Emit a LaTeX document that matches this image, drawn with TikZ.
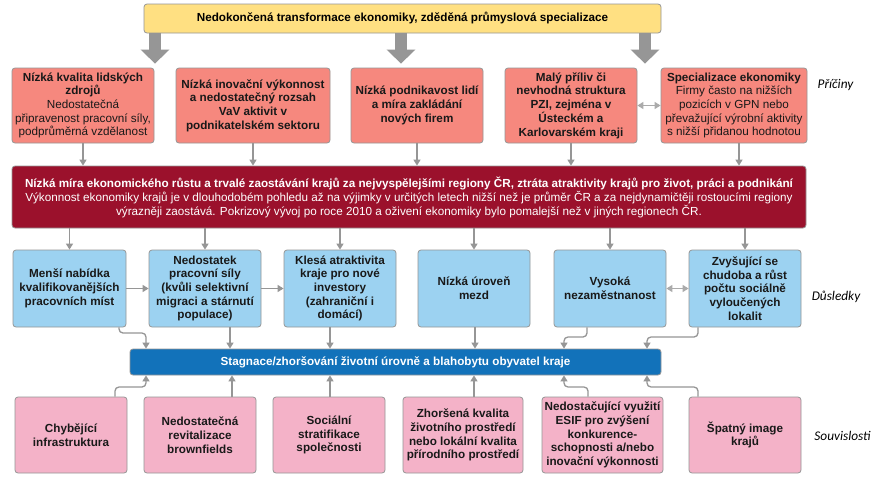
\documentclass[tikz,border=0pt]{standalone}
\usepackage{fontspec}
\setmainfont{Liberation Sans}
\newfontfamily\lblfont{Carlito}
\usetikzlibrary{arrows.meta}
\definecolor{ylw}{RGB}{255,224,130}
\definecolor{salmon}{RGB}{246,136,126}
\definecolor{darkred}{RGB}{155,17,44}
\definecolor{lblue}{RGB}{156,210,241}
\definecolor{bbar}{RGB}{18,114,186}
\definecolor{pinkb}{RGB}{244,178,200}
\definecolor{edge}{RGB}{150,150,150}
\definecolor{agray}{RGB}{150,150,150}
\definecolor{txt}{RGB}{25,25,25}
\tikzset{
  box/.style={draw=edge, line width=0.8pt, rounded corners=3pt, align=center, inner sep=2pt,
    text=txt, font=\fontsize{11.7}{13.7}\selectfont\bfseries},
  redbox/.style={box, fill=salmon},
  bluebox/.style={box, fill=lblue},
  pinkbox/.style={box, fill=pinkb},
  conn/.style={draw=agray, line width=1.3pt, rounded corners=4pt,
    -{Triangle[width=7pt,length=6pt]}},
  dconn/.style={draw=agray!80, line width=1.3pt,
    {Triangle[width=7pt,length=6pt]}-{Triangle[width=7pt,length=6pt]}},
  bigarrow/.style={draw=agray, line width=12pt,
    -{Triangle[width=28pt,length=14pt]}},
  sidelbl/.style={font=\lblfont\itshape\fontsize{13.3}{15}\selectfont, text=black}
}
\begin{document}
\begin{tikzpicture}[x=1pt,y=-1pt]
\useasboundingbox (0,0) rectangle (876,482);
\fill[white] (0,0) rectangle (876,482);

% top
\node[box, fill=ylw, minimum width=517pt, minimum height=29pt, text=black,
  font=\fontsize{11.7}{13.7}\selectfont\bfseries] (top) at (402.5,18.5)
  {Nedokončená transformace ekonomiky, zděděná průmyslová specializace};

% row 1
\node[redbox, minimum width=142pt, minimum height=75pt] (c1) at (83,105.5)
  {Nízká kvalita lidských\\zdrojů\\\mdseries Nedostatečná\\\mdseries připravenost pracovní síly,\\\mdseries podprůměrná vzdělanost};
\node[redbox, minimum width=154pt, minimum height=75pt] (c2) at (253,105.5)
  {Nízká inovační výkonnost\\a nedostatečný rozsah\\VaV aktivit v\\podnikatelském sektoru};
\node[redbox, minimum width=132pt, minimum height=75pt] (c3) at (417,105.5)
  {Nízká podnikavost lidí\\a míra zakládání\\nových firem};
\node[redbox, minimum width=132pt, minimum height=75pt] (c4) at (571,105.5)
  {Malý příliv či\\nevhodná struktura\\PZI, zejména v\\Ústeckém a\\Karlovarském kraji};
\node[redbox, minimum width=146pt, minimum height=75pt] (c5) at (734,105.5)
  {Specializace ekonomiky\\\mdseries Firmy často na nižších\\\mdseries pozicích v GPN nebo\\\mdseries převažující výrobní aktivity\\\mdseries s nižší přidanou hodnotou};

% dark red bar
\node[box, fill=darkred, text=white, minimum width=794pt, minimum height=62pt,
  font=\fontsize{11.7}{14}\selectfont] (bar) at (409,197)
  {\bfseries Nízká míra ekonomického růstu a trvalé zaostávání krajů za nejvyspělejšími regiony ČR, ztráta atraktivity krajů pro život, práci a podnikání\\
   Výkonnost ekonomiky krajů je v dlouhodobém pohledu až na výjimky v určitých letech nižší než je průměr ČR a za nejdynamičtěji rostoucími regiony\\
   výrazněji zaostává. Pokrizový vývoj po roce 2010 a oživení ekonomiky bylo pomalejší než v jiných regionech ČR.};

% row 2
\node[bluebox, minimum width=113pt, minimum height=77pt] (d1) at (69.5,288.5)
  {Menší nabídka\\kvalifikovanějších\\pracovních míst};
\node[bluebox, minimum width=112pt, minimum height=77pt] (d2) at (205,288.5)
  {Nedostatek\\pracovní síly\\(kvůli selektivní\\migraci a stárnutí\\populace)};
\node[bluebox, minimum width=112pt, minimum height=77pt] (d3) at (340,288.5)
  {Klesá atraktivita\\kraje pro nové\\investory\\(zahraniční i\\domácí)};
\node[bluebox, minimum width=112pt, minimum height=77pt] (d4) at (474,288.5)
  {Nízká úroveň\\mezd};
\node[bluebox, minimum width=112pt, minimum height=77pt] (d5) at (610,288.5)
  {Vysoká\\nezaměstnanost};
\node[bluebox, minimum width=112pt, minimum height=77pt] (d6) at (745,288.5)
  {Zvyšující se\\chudoba a růst\\počtu sociálně\\vyloučených\\lokalit};

% blue bar
\node[box, fill=bbar, text=white, minimum width=531pt, minimum height=26pt,
  font=\fontsize{11.7}{13.7}\selectfont\bfseries] (bbar) at (395.5,362)
  {Stagnace/zhoršování životní úrovně a blahobytu obyvatel kraje};

% row 3
\node[pinkbox, minimum width=112pt, minimum height=76pt] (e1) at (71,435)
  {Chybějící\\infrastruktura};
\node[pinkbox, minimum width=112pt, minimum height=76pt] (e2) at (200,435)
  {Nedostatečná\\revitalizace\\brownfields};
\node[pinkbox, minimum width=112pt, minimum height=76pt] (e3) at (329,435)
  {Sociální\\stratifikace\\společnosti};
\node[pinkbox, minimum width=120pt, minimum height=76pt] (e4) at (463,435)
  {Zhoršená kvalita\\životního prostředí\\nebo lokální kvalita\\přírodního prostředí};
\node[pinkbox, minimum width=121pt, minimum height=76pt] (e5) at (602.5,435)
  {Nedostačující využití\\ESIF pro zvýšení\\konkurence-\\schopnosti a/nebo\\inovační výkonnosti};
\node[pinkbox, minimum width=112pt, minimum height=76pt] (e6) at (745,435)
  {Špatný image\\krajů};

% side labels
\node[sidelbl] (l1) at (835.5,85) {Příčiny};
\node[sidelbl] (l2) at (836,297) {Důsledky};
\node[sidelbl] (l3) at (842.5,436) {Souvislosti};

% big arrows
\draw[bigarrow, shorten >=4pt] (top.south -| 155,0) -- (c2.north -| 155,0);
\draw[bigarrow, shorten >=4pt] (top.south -| 401,0) -- (c3.north -| 401,0);
\draw[bigarrow, shorten >=4pt] (top.south -| 645,0) -- (c4.north -| 645,0);

% row1 -> bar
\draw[conn] (c1.south) -- (c1.south |- bar.north);
\draw[conn] (c2.south) -- (c2.south |- bar.north);
\draw[conn] (c3.south) -- (c3.south |- bar.north);
\draw[conn] (c4.south) -- (c4.south |- bar.north);
\draw[conn] (c5.south -| 739,0) -- (bar.north -| 739,0);
\draw[dconn] (c4.east) -- (c5.west);

% bar -> row2
\draw[conn] (d1.north |- bar.south) -- (d1.north);
\draw[conn] (d2.north |- bar.south) -- (d2.north);
\draw[conn] (d3.north |- bar.south) -- (d3.north);
\draw[conn] (d4.north |- bar.south) -- (d4.north);
\draw[conn] (d5.north |- bar.south) -- (d5.north);
\draw[conn] (d6.north |- bar.south) -- (d6.north);

% row2 horizontal
\draw[conn] (d1.east) -- (d2.west);
\draw[conn] (d2.east) -- (d3.west);
\draw[dconn] (d5.east) -- (d6.west);

% row2 -> blue bar
\draw[conn] (d1.south -| 119,0) -- (119,333) -- (146,333) -- (bbar.north -| 146,0);
\draw[conn] (d2.south -| 230,0) -- (bbar.north -| 230,0);
\draw[conn] (d3.south -| 330,0) -- (bbar.north -| 330,0);
\draw[conn] (d4.south -| 475,0) -- (bbar.north -| 475,0);
\draw[conn] (d5.south -| 587,0) -- (587,337) -- (564,337) -- (bbar.north -| 564,0);
\draw[conn] (d6.south -| 698,0) -- (698,337) -- (647,337) -- (bbar.north -| 647,0);

% row3 -> blue bar
\draw[conn] (e1.north -| 115,0) -- (115,387) -- (146,387) -- (bbar.south -| 146,0);
\draw[conn] (e2.north -| 232,0) -- (bbar.south -| 232,0);
\draw[conn] (e3.north -| 330,0) -- (bbar.south -| 330,0);
\draw[conn] (e4.north -| 474,0) -- (bbar.south -| 474,0);
\draw[conn] (e5.north -| 588,0) -- (588,387) -- (564,387) -- (bbar.south -| 564,0);
\draw[conn] (e6.north -| 698,0) -- (698,387) -- (647,387) -- (bbar.south -| 647,0);
\end{tikzpicture}
\end{document}
